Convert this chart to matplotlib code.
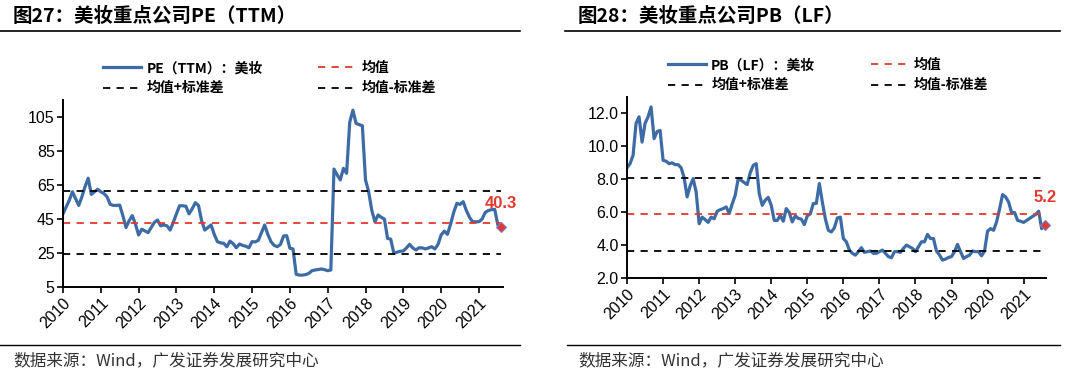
import matplotlib
matplotlib.use("Agg")
import matplotlib.pyplot as plt
import numpy as np

plt.rcParams["font.family"] = ["Liberation Sans", "Noto Sans CJK SC", "DejaVu Sans"]
CJK = ["Noto Sans CJK SC", "Liberation Sans", "DejaVu Sans"]

# monthly values, Jan 2010 onwards
pe_values = [
    48, 52, 56, 61, 57, 53, 58, 64, 69, 59.5, 61, 62.5,
    61, 60, 58, 53.6, 53, 53, 53.2, 47, 40, 44, 47, 42,
    35.6, 39, 38, 37, 40, 43, 44.4, 41, 41.5, 41, 38.5, 43,
    48, 52.8, 52.8, 52.5, 48, 51, 54.6, 53, 44, 38.5, 40, 41.5,
    36, 31.7, 31, 30.7, 28.7, 32, 30.5, 28.1, 30.3, 29.5, 29, 28.1,
    31.7, 31.5, 32.5, 37, 41.5, 36, 31.7, 29.5, 28.7, 30, 35, 35.2,
    27.8, 27.4, 12.5, 12, 12, 12.3, 13, 14.6, 15, 15.3, 15.6, 15.2,
    14.6, 15, 74.4, 71, 68, 74.8, 71.9, 102, 109, 101.3, 100.5, 99.9,
    68, 61.1, 50, 43.4, 47.4, 46, 45, 33.6, 33.2, 24.8, 25.5, 26,
    26.2, 28, 30.1, 28, 26.8, 28.1, 28, 27.4, 28, 28.7, 27.4, 30,
    35.6, 37.9, 36, 42, 49, 54.2, 53.6, 55.2, 50, 46, 43.4, 43.4,
    43.4, 45, 48.9, 50, 50.5, 50.7, 41.5, 40.3,
]
pb_values = [
    8.7, 8.95, 9.45, 11.4, 11.8, 10.26, 11.4, 11.8, 12.4, 10.47, 10.9, 10.97,
    9.15, 9.1, 8.95, 9.0, 8.89, 8.89, 8.7, 8.1, 6.93, 7.6, 8.04, 7.23,
    5.3, 5.7, 5.55, 5.38, 5.7, 5.6, 6.06, 6.15, 6.22, 6.32, 5.92, 6.5,
    7.03, 8.04, 7.94, 7.8, 7.68, 8.4, 8.85, 8.95, 7.13, 6.42, 6.73, 6.9,
    6.42, 5.5, 5.5, 5.8, 5.45, 6.22, 5.98, 5.41, 5.78, 5.62, 5.58, 5.25,
    5.78, 5.9, 6.53, 6.53, 7.74, 6.62, 5.6, 4.9, 4.8, 5.05, 5.65, 5.7,
    4.4, 4.2, 3.7, 3.5, 3.39, 3.6, 3.84, 3.56, 3.6, 3.64, 3.5, 3.5,
    3.6, 3.7, 3.5, 3.3, 3.23, 3.6, 3.6, 3.56, 3.8, 4.0, 3.9, 3.8,
    3.6, 3.9, 4.2, 4.2, 4.65, 4.4, 4.4, 3.64, 3.4, 3.09, 3.15, 3.25,
    3.3, 3.6, 4.04, 3.6, 3.19, 3.3, 3.39, 3.64, 3.6, 3.6, 3.35, 3.64,
    4.85, 5.0, 4.9, 5.41, 6.2, 7.07, 6.93, 6.62, 5.98, 5.98, 5.5, 5.45,
    5.38, 5.5, 5.62, 5.75, 5.86, 6.06, 5.0, 5.2,
]

pe_mean, pe_upper, pe_lower = 42.8, 61.3, 24.3
pb_mean, pb_upper, pb_lower = 5.87, 8.07, 3.67

years = list(range(2010, 2022))
pe_yticks = [5, 25, 45, 65, 85, 105]
pb_yticks = [2.0, 4.0, 6.0, 8.0, 10.0, 12.0]

BLUE = "#3D6BA6"
RED = "#E2392E"


def draw_panel(fig, rect, values, mean, upper, lower, label, yticks, ylim,
               fmt, last_label, label_offset, leg_x):
    ax = fig.add_axes(rect)
    x = 2010 + np.arange(len(values)) / 12.0
    xr = [2010, x[-1]]
    ax.plot(x, values, color=BLUE, lw=2.3, label=label, solid_joinstyle="round")
    ax.plot(xr, [upper] * 2, ls=(0, (4, 3.5)), color="black", lw=1.3, label="均值+标准差")
    ax.plot(xr, [mean] * 2, ls=(0, (4, 3.5)), color=RED, lw=1.3, label="均值")
    ax.plot(xr, [lower] * 2, ls=(0, (4, 3.5)), color="black", lw=1.3, label="均值-标准差")
    ax.plot(x[-1], values[-1], marker="D", ms=5.5, color=RED, mec="#7C7CC8", mew=0.8,
            clip_on=False, zorder=5)
    ax.text(x[-1], values[-1] + label_offset, last_label, color=RED, fontsize=12,
            fontweight="bold", ha="center", va="center")

    ax.set_xlim(2010, x[-1] + 0.04)
    ax.set_ylim(*ylim)
    ax.set_xticks(years)
    ax.set_xticklabels([str(y) for y in years], rotation=45, ha="right", va="top",
                       rotation_mode="anchor", fontsize=11.5)
    ax.set_yticks(yticks)
    ax.set_yticklabels([fmt.format(v) for v in yticks], fontsize=11.5)
    for s in ["top", "right"]:
        ax.spines[s].set_visible(False)
    for s in ["left", "bottom"]:
        ax.spines[s].set_linewidth(1.4)
    ax.tick_params(direction="out", length=4, width=1.2, pad=2)

    h, l = ax.get_legend_handles_labels()
    ax.legend(h, l, ncol=2, loc="lower center", bbox_to_anchor=(leg_x, 0.995),
              frameon=False, borderaxespad=0,
              prop={"family": CJK, "size": 10, "weight": "bold"},
              handlelength=2.7, columnspacing=4.0, labelspacing=0.45,
              handletextpad=0.4)
    return ax


fig = plt.figure(figsize=(10.8, 3.77), dpi=100)

draw_panel(fig, [0.0583, 0.2387, 0.407, 0.496], pe_values, pe_mean, pe_upper, pe_lower,
           "PE（TTM）：美妆", pe_yticks, (5, 115), "{:.0f}", "40.3", 14, 0.47)
draw_panel(fig, [0.5806, 0.2626, 0.388, 0.480], pb_values, pb_mean, pb_upper, pb_lower,
           "PB（LF）：美妆", pb_yticks, (2, 13), "{:.1f}", "5.2", 1.7, 0.48)

# titles and rules
fig.text(13 / 1080, 1 - 16 / 377, "图27：美妆重点公司PE（TTM）", family=CJK,
         fontsize=14, fontweight="bold", va="center", ha="left")
fig.text(578 / 1080, 1 - 16 / 377, "图28：美妆重点公司PB（LF）", family=CJK,
         fontsize=14, fontweight="bold", va="center", ha="left")
fig.add_artist(plt.Line2D([0, 520 / 1080], [1 - 31 / 377] * 2, color="black", lw=1.2))
fig.add_artist(plt.Line2D([565 / 1080, 1060 / 1080], [1 - 31 / 377] * 2, color="black", lw=1.2))
fig.add_artist(plt.Line2D([0, 520 / 1080], [1 - 345 / 377] * 2, color="black", lw=1.0))
fig.add_artist(plt.Line2D([567 / 1080, 1060 / 1080], [1 - 345 / 377] * 2, color="black", lw=1.0))

fig.text(13 / 1080, 1 - 361 / 377, "数据来源：Wind，广发证券发展研究中心", family=CJK,
         fontsize=12, color="#333333", va="center", ha="left")
fig.text(578 / 1080, 1 - 361 / 377, "数据来源：Wind，广发证券发展研究中心", family=CJK,
         fontsize=12, color="#333333", va="center", ha="left")

fig.savefig("out.png", dpi=100)
